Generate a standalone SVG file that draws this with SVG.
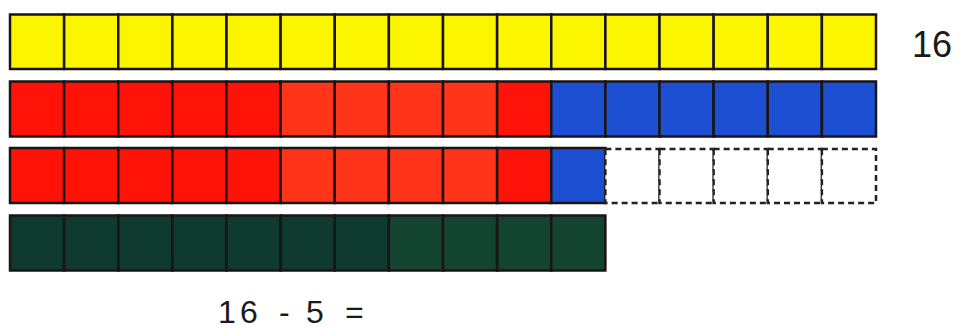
<svg xmlns="http://www.w3.org/2000/svg" width="961" height="331" viewBox="0 0 961 331">
  <defs>
    <style>
      .c { stroke: #1a1414; stroke-width: 2.5; }
      .y { fill: #fbf600; }
      .r { fill: #ff1208; }
      .o { fill: #ff3418; }
      .b { fill: #1d4fd2; }
      .g { fill: #0f3a2f; }
      .g2 { fill: #124430; }
      .d { fill: #ffffff; stroke: #222222; stroke-width: 2.5; stroke-dasharray: 6 4; }
      .t { font-family: "Liberation Sans", Arial, sans-serif; fill: #1a1a1a; }
    </style>
  </defs>
  <rect width="961" height="331" fill="#ffffff"/>

  <g id="row-yellow">
    <rect class="c y" x="10" y="14.5" width="54.125" height="54.5"/>
    <rect class="c y" x="64.125" y="14.5" width="54.125" height="54.5"/>
    <rect class="c y" x="118.25" y="14.5" width="54.125" height="54.5"/>
    <rect class="c y" x="172.375" y="14.5" width="54.125" height="54.5"/>
    <rect class="c y" x="226.5" y="14.5" width="54.125" height="54.5"/>
    <rect class="c y" x="280.625" y="14.5" width="54.125" height="54.5"/>
    <rect class="c y" x="334.75" y="14.5" width="54.125" height="54.5"/>
    <rect class="c y" x="388.875" y="14.5" width="54.125" height="54.5"/>
    <rect class="c y" x="443" y="14.5" width="54.125" height="54.5"/>
    <rect class="c y" x="497.125" y="14.5" width="54.125" height="54.5"/>
    <rect class="c y" x="551.25" y="14.5" width="54.125" height="54.5"/>
    <rect class="c y" x="605.375" y="14.5" width="54.125" height="54.5"/>
    <rect class="c y" x="659.5" y="14.5" width="54.125" height="54.5"/>
    <rect class="c y" x="713.625" y="14.5" width="54.125" height="54.5"/>
    <rect class="c y" x="767.75" y="14.5" width="54.125" height="54.5"/>
    <rect class="c y" x="821.875" y="14.5" width="54.125" height="54.5"/>
  </g>

  <g id="row-red-blue">
    <rect class="c r" x="10" y="81.5" width="54.125" height="55"/>
    <rect class="c r" x="64.125" y="81.5" width="54.125" height="55"/>
    <rect class="c r" x="118.25" y="81.5" width="54.125" height="55"/>
    <rect class="c r" x="172.375" y="81.5" width="54.125" height="55"/>
    <rect class="c r" x="226.5" y="81.5" width="54.125" height="55"/>
    <rect class="c o" x="280.625" y="81.5" width="54.125" height="55"/>
    <rect class="c o" x="334.75" y="81.5" width="54.125" height="55"/>
    <rect class="c o" x="388.875" y="81.5" width="54.125" height="55"/>
    <rect class="c o" x="443" y="81.5" width="54.125" height="55"/>
    <rect class="c r" x="497.125" y="81.5" width="54.125" height="55"/>
    <rect class="c b" x="551.25" y="81.5" width="54.125" height="55"/>
    <rect class="c b" x="605.375" y="81.5" width="54.125" height="55"/>
    <rect class="c b" x="659.5" y="81.5" width="54.125" height="55"/>
    <rect class="c b" x="713.625" y="81.5" width="54.125" height="55"/>
    <rect class="c b" x="767.75" y="81.5" width="54.125" height="55"/>
    <rect class="c b" x="821.875" y="81.5" width="54.125" height="55"/>
  </g>

  <g id="row-red-blue-removed">
    <rect class="c r" x="10" y="148" width="54.125" height="55"/>
    <rect class="c r" x="64.125" y="148" width="54.125" height="55"/>
    <rect class="c r" x="118.25" y="148" width="54.125" height="55"/>
    <rect class="c r" x="172.375" y="148" width="54.125" height="55"/>
    <rect class="c r" x="226.5" y="148" width="54.125" height="55"/>
    <rect class="c o" x="280.625" y="148" width="54.125" height="55"/>
    <rect class="c o" x="334.75" y="148" width="54.125" height="55"/>
    <rect class="c o" x="388.875" y="148" width="54.125" height="55"/>
    <rect class="c o" x="443" y="148" width="54.125" height="55"/>
    <rect class="c r" x="497.125" y="148" width="54.125" height="55"/>
    <rect class="c b" x="551.25" y="148" width="54.125" height="55"/>
    <rect class="d" x="605.375" y="149" width="54.125" height="54"/>
    <rect class="d" x="659.5" y="149" width="54.125" height="54"/>
    <rect class="d" x="713.625" y="149" width="54.125" height="54"/>
    <rect class="d" x="767.75" y="149" width="54.125" height="54"/>
    <rect class="d" x="821.875" y="149" width="54.125" height="54"/>
  </g>

  <g id="row-green">
    <rect class="c g" x="10" y="215.5" width="54.125" height="55"/>
    <rect class="c g" x="64.125" y="215.5" width="54.125" height="55"/>
    <rect class="c g" x="118.25" y="215.5" width="54.125" height="55"/>
    <rect class="c g" x="172.375" y="215.5" width="54.125" height="55"/>
    <rect class="c g" x="226.5" y="215.5" width="54.125" height="55"/>
    <rect class="c g" x="280.625" y="215.5" width="54.125" height="55"/>
    <rect class="c g" x="334.75" y="215.5" width="54.125" height="55"/>
    <rect class="c g2" x="388.875" y="215.5" width="54.125" height="55"/>
    <rect class="c g2" x="443" y="215.5" width="54.125" height="55"/>
    <rect class="c g2" x="497.125" y="215.5" width="54.125" height="55"/>
    <rect class="c g2" x="551.25" y="215.5" width="54.125" height="55"/>
  </g>

  <g id="label-16">
    <text class="t" x="912" y="57" font-size="36">16</text>
  </g>
  <g id="label-equation">
    <text class="t" y="323" font-size="32"><tspan x="218">1</tspan><tspan x="240">6</tspan><tspan x="279">-</tspan><tspan x="306">5</tspan><tspan x="345">=</tspan></text>
  </g>
</svg>
